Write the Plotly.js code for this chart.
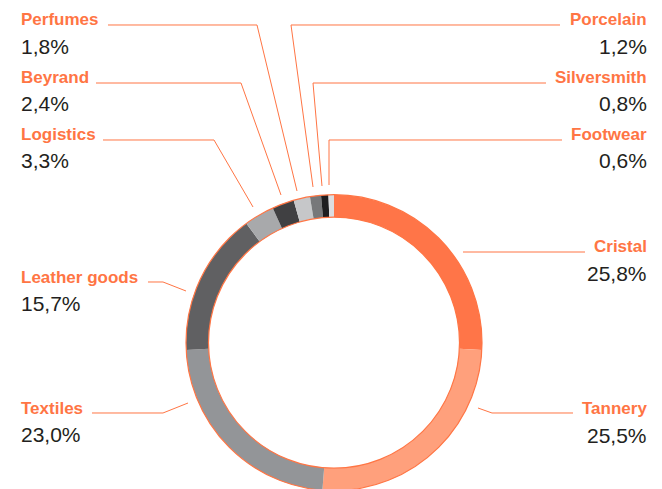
<!DOCTYPE html>
<html>
<head>
<meta charset="utf-8">
<script src="https://cdn.plot.ly/plotly-3.0.1.min.js"></script>
<style>
html,body{margin:0;padding:0;overflow:hidden;background:#fff;}
#chart{width:662px;height:492px;}
</style>
</head>
<body>
<div id="chart"></div>
<script>
// ---- data ----
const categories = ["Cristal","Tannery","Textiles","Leather goods","Logistics","Beyrand","Perfumes","Porcelain","Silversmith","Footwear"];
const shares = [25.8,25.5,23.0,15.7,3.3,2.4,1.8,1.2,0.8,0.6];
const valueLabels = ["25,8%","25,5%","23,0%","15,7%","3,3%","2,4%","1,8%","1,2%","0,8%","0,6%"];
const sliceColors = ["#ff7548","#ffa07c","#939598","#606062","#a8a9ab","#404042","#c6c7c9","#77787a","#1e1e20","#dcdde0"];

// ---- layout geometry (pixels) ----
const W = 662, H = 492;
const CX = 334, CY = 342.7, R = 148, HOLE = 0.848;
const X = px => px / W;
const Y = py => 1 - py / H;

const ORANGE = "#ff7544";
const DARK = "#231f20";

// label placement: [side, name cap-centre y, value y]
const labelPos = {
  "Perfumes":      ["left", 18.5, 45],
  "Beyrand":       ["left", 76.5, 102.5],
  "Logistics":     ["left", 133.5, 159.5],
  "Leather goods": ["left", 276.5, 302.5],
  "Textiles":      ["left", 407.5, 433.5],
  "Porcelain":     ["right", 18.5, 45],
  "Silversmith":   ["right", 76.5, 102.5],
  "Footwear":      ["right", 133.5, 159.5],
  "Cristal":       ["right", 245.5, 272.5],
  "Tannery":       ["right", 407.5, 434.5]
};
// leader line paths in pixels
const leaders = {
  "Perfumes":      [[108,25],[257,25],[297,191]],
  "Beyrand":       [[96,83],[241,83],[281,195]],
  "Logistics":     [[103,140],[214,140],[253,207]],
  "Porcelain":     [[560,25],[291,25],[313,187]],
  "Silversmith":   [[546,83],[313,83],[322,186]],
  "Footwear":      [[562,140],[329,140],[329,185]],
  "Cristal":       [[463,252],[585,252]],
  "Tannery":       [[478,408],[492,413],[573,413]],
  "Leather goods": [[186,291],[163,282],[148,282]],
  "Textiles":      [[188,403],[163,413],[92,413]]
};

const annotations = [];
const shapes = [];
categories.forEach((c, i) => {
  const p = labelPos[c];
  const left = p[0] === "left";
  const xpx = left ? 19 : 649;
  annotations.push({
    text: "<b>" + c + "</b>", xref: "paper", yref: "paper",
    x: X(xpx), y: Y(p[1] + 1), xanchor: left ? "left" : "right", yanchor: "middle",
    showarrow: false, font: {family: "Liberation Sans, Arial, sans-serif", size: 17, color: ORANGE}
  });
  annotations.push({
    text: valueLabels[i], xref: "paper", yref: "paper",
    x: X(xpx), y: Y(p[2] + 1), xanchor: left ? "left" : "right", yanchor: "middle",
    showarrow: false, font: {family: "Liberation Sans, Arial, sans-serif", size: 21, color: DARK}
  });
  const pts = leaders[c];
  const d = pts.map((q, k) => (k ? "L" : "M") + X(q[0]).toFixed(5) + "," + Y(q[1]).toFixed(5)).join(" ");
  shapes.push({type: "path", xref: "paper", yref: "paper", path: d,
    line: {color: ORANGE, width: 1}});
});

// orange ring outlines
[R, R * HOLE].forEach(r => {
  shapes.push({type: "circle", xref: "paper", yref: "paper",
    x0: X(CX - r), x1: X(CX + r), y0: Y(CY + r), y1: Y(CY - r),
    line: {color: ORANGE, width: 1.2}, fillcolor: "rgba(0,0,0,0)"});
});

const trace = {
  type: "pie",
  labels: categories,
  values: shares,
  sort: false,
  direction: "clockwise",
  rotation: 0,
  hole: HOLE,
  textinfo: "none",
  hoverinfo: "label+percent",
  marker: {colors: sliceColors, line: {width: 0}},
  domain: {x: [X(CX - R), X(CX + R)], y: [Y(CY + R), Y(CY - R)]},
  showlegend: false
};

Plotly.newPlot("chart", [trace], {
  width: W, height: H,
  margin: {l: 0, r: 0, t: 0, b: 0},
  paper_bgcolor: "#fff",
  showlegend: false,
  annotations: annotations,
  shapes: shapes
}, {displayModeBar: false, staticPlot: true});
</script>
</body>
</html>
